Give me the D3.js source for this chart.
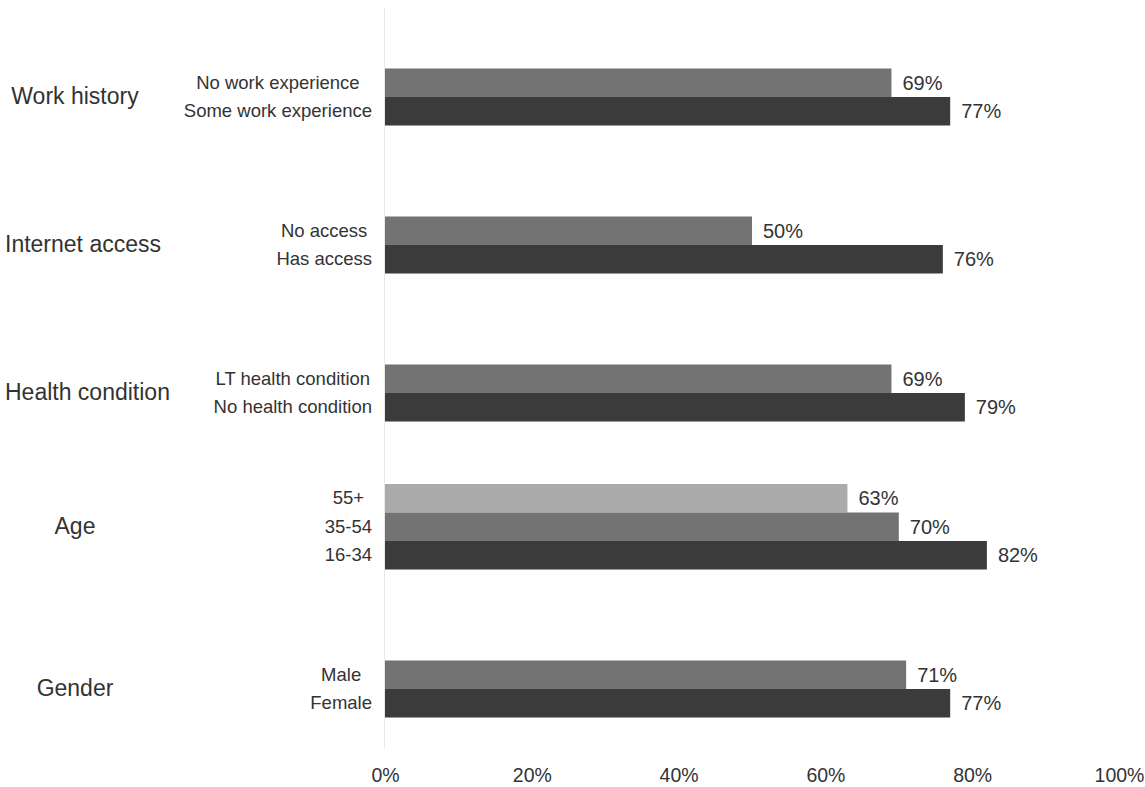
<!DOCTYPE html>
<html>
<head>
<meta charset="utf-8">
<script src="https://cdn.jsdelivr.net/npm/d3@7"></script>
<style>
  html, body { margin: 0; padding: 0; background: #fff; }
  svg text { font-family: "Liberation Sans", Arial, sans-serif; fill: #333; }
</style>
</head>
<body>
<svg id="chart" width="1145" height="787"></svg>
<script>
// ---- data ----
const groupNames = ["Work history", "Internet access", "Health condition", "Age", "Gender"];
const categoryLabels = [
  ["No work experience", "Some work experience"],
  ["No access", "Has access"],
  ["LT health condition", "No health condition"],
  ["55+", "35-54", "16-34"],
  ["Male", "Female"]
];
const values = [
  [69, 77],
  [50, 76],
  [69, 79],
  [63, 70, 82],
  [71, 77]
];
const tickValues = [0, 20, 40, 60, 80, 100];

// ---- style ----
const shades = ["#ababab", "#737373", "#3b3b3b"];
const barH = 28.5;

const svg = d3.select("#chart");

const x = d3.scaleLinear().domain([0, 100]).range([385, 1119]);
const y = d3.scalePoint().domain(groupNames).range([97, 689]);

// vertical baseline
svg.append("line")
  .attr("x1", 384.5).attr("x2", 384.5)
  .attr("y1", 8).attr("y2", 749)
  .attr("stroke", "#e9e9e9").attr("stroke-width", 1);

const groups = svg.selectAll("g.grp")
  .data(groupNames.map((g, i) => ({
    name: g,
    labels: categoryLabels[i],
    vals: values[i]
  })))
  .join("g").attr("class", "grp");

groups.each(function(d) {
  const g = d3.select(this);
  const n = d.vals.length;
  const center = y(d.name);
  const rows = d.vals.map((v, j) => ({
    v, label: d.labels[j],
    top: center + (j - (n - 1)) * barH,
    shade: shades[3 - n + j]
  }));

  g.selectAll("rect").data(rows).join("rect")
    .attr("x", x(0))
    .attr("y", r => r.top)
    .attr("width", r => x(r.v) - x(0))
    .attr("height", barH)
    .attr("fill", r => r.shade);

  g.selectAll("text.val").data(rows).join("text")
    .attr("class", "val")
    .attr("x", r => x(r.v) + 11)
    .attr("y", r => r.top + barH / 2)
    .attr("dy", "0.35em")
    .attr("font-size", 20)
    .text(r => Math.round(r.v) + "%");

  const cats = g.selectAll("text.cat").data(rows).join("text")
    .attr("class", "cat")
    .attr("y", r => r.top + barH / 2)
    .attr("dy", "0.33em")
    .attr("font-size", 18.5)
    .attr("text-anchor", "middle")
    .text(r => r.label);
  let maxW = 0;
  cats.each(function() { maxW = Math.max(maxW, this.getComputedTextLength()); });
  cats.attr("x", 372 - maxW / 2);

  const mid = center + barH - n * barH / 2;
  const gl = g.append("text")
    .attr("class", "grpLabel")
    .attr("y", mid)
    .attr("dy", "0.3em")
    .attr("font-size", 23)
    .text(d.name);
  const w = gl.node().getComputedTextLength();
  gl.attr("x", Math.max(5, 75 - w / 2));
});

// x axis
const axis = d3.axisBottom(x)
  .tickValues(tickValues)
  .tickSize(0)
  .tickFormat(t => t + "%");
const ax = svg.append("g")
  .attr("transform", "translate(0,758)")
  .call(axis);
ax.select(".domain").remove();
ax.selectAll("text")
  .attr("font-size", 19.5)
  .attr("dy", "1.1em")
  .style("font-family", "'Liberation Sans', Arial, sans-serif")
  .attr("fill", "#3a3a3a");
</script>
</body>
</html>
